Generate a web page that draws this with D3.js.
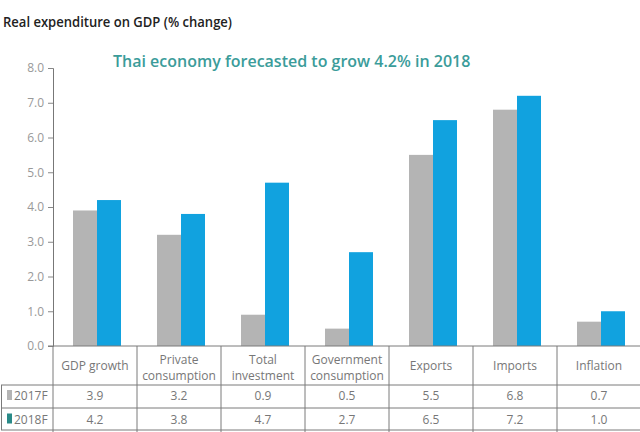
<!DOCTYPE html>
<html><head><meta charset="utf-8">
<script src="https://cdn.jsdelivr.net/npm/d3@7"></script>
<style>
body{margin:0;background:#fff;}
text{font-family:"Open Sans",sans-serif;}
</style></head>
<body><svg id="c" width="640" height="432"></svg>
<script>
const categories = [["GDP growth"],["Private","consumption"],["Total","investment"],["Government","consumption"],["Exports"],["Imports"],["Inflation"]];
const series = ["2017F","2018F"];
const values2017 = [3.9,3.2,0.9,0.5,5.5,6.8,0.7];
const values2018 = [4.2,3.8,4.7,2.7,6.5,7.2,1.0];
const yTicks = [0,1,2,3,4,5,6,7,8];
const title = "Real expenditure on GDP (% change)";
const subtitle = "Thai economy forecasted to grow 4.2% in 2018";

const colors = {"2017F":"#b4b4b4","2018F":"#11a2df"};
const swatch = {"2017F":"#b4b4b4","2018F":"#2a8a88"};
const svg = d3.select("#c");
const catKeys = categories.map(c=>c.join(" "));
const x0 = d3.scaleBand().domain(catKeys).range([53,641]);
const bw = x0.bandwidth();
const x1 = d3.scaleBand().domain(series).range([bw/2-22, bw/2+26]);
const y = d3.scaleLinear().domain([0,8]).range([346,68]);

svg.append("text").attr("x",3).attr("y",27).attr("font-size",15).attr("font-weight",600)
  .attr("textLength",229).attr("lengthAdjust","spacingAndGlyphs")
  .attr("fill","#222").text(title);
svg.append("text").attr("x",113).attr("y",67).attr("font-size",16).attr("font-weight",600)
  .attr("fill","#3b9c9a").text(subtitle);

const rows = series.map((s,i)=>({s, vals: i===0?values2017:values2018}));
rows.forEach(r=>{
  svg.append("g").selectAll("rect").data(r.vals).join("rect")
    .attr("x",(d,i)=>x0(catKeys[i])+x1(r.s))
    .attr("width",x1.bandwidth())
    .attr("y",d=>y(d)).attr("height",d=>y(0)-y(d))
    .attr("fill",colors[r.s]);
});

const ax = svg.append("g").attr("transform","translate(53,0)")
  .call(d3.axisLeft(y).tickValues(yTicks).tickFormat(d3.format(".1f")).tickSize(5).tickPadding(4));
ax.select(".domain").attr("stroke","#777");
ax.selectAll(".tick line").attr("stroke","#888");
ax.selectAll(".tick text").attr("fill","#999").attr("font-size",12).attr("font-family","Open Sans");

// table
const lc = "#7a7a7a";
const tc = "#777";
const t = svg.append("g");
t.append("line").attr("x1",48).attr("x2",640).attr("y1",346).attr("y2",346).attr("stroke",lc);
t.append("line").attr("x1",53).attr("x2",53).attr("y1",346).attr("y2",432).attr("stroke",lc);
[385,408,430].forEach(yy=>t.append("line").attr("x1",1).attr("x2",640).attr("y1",yy).attr("y2",yy).attr("stroke",lc));
t.append("line").attr("x1",1.5).attr("x2",1.5).attr("y1",385).attr("y2",430).attr("stroke",lc);
catKeys.forEach((k,i)=>{
  if(i>0) t.append("line").attr("x1",x0(k)).attr("x2",x0(k)).attr("y1",346).attr("y2",432).attr("stroke",lc);
  const cx = x0(k)+bw/2;
  const lines = categories[i];
  lines.forEach((ln,j)=>{
    const yy = lines.length===1 ? 370 : 364+j*16;
    t.append("text").attr("x",cx).attr("y",yy).attr("text-anchor","middle").attr("font-size",12)
      .attr("fill",tc).text(ln);
  });
  rows.forEach((r,ri)=>{
    t.append("text").attr("x",cx).attr("y",400+ri*23.5).attr("text-anchor","middle").attr("font-size",12)
      .attr("fill",tc).text(r.vals[i].toFixed(1));
  });
});
rows.forEach((r,ri)=>{
  const yy = 400+ri*23.5;
  t.append("rect").attr("x",7).attr("y",yy-10).attr("width",5).attr("height",10).attr("fill",swatch[r.s]);
  t.append("text").attr("x",14).attr("y",yy).attr("font-size",12).attr("fill",tc).text(r.s);
});
</script></body></html>
